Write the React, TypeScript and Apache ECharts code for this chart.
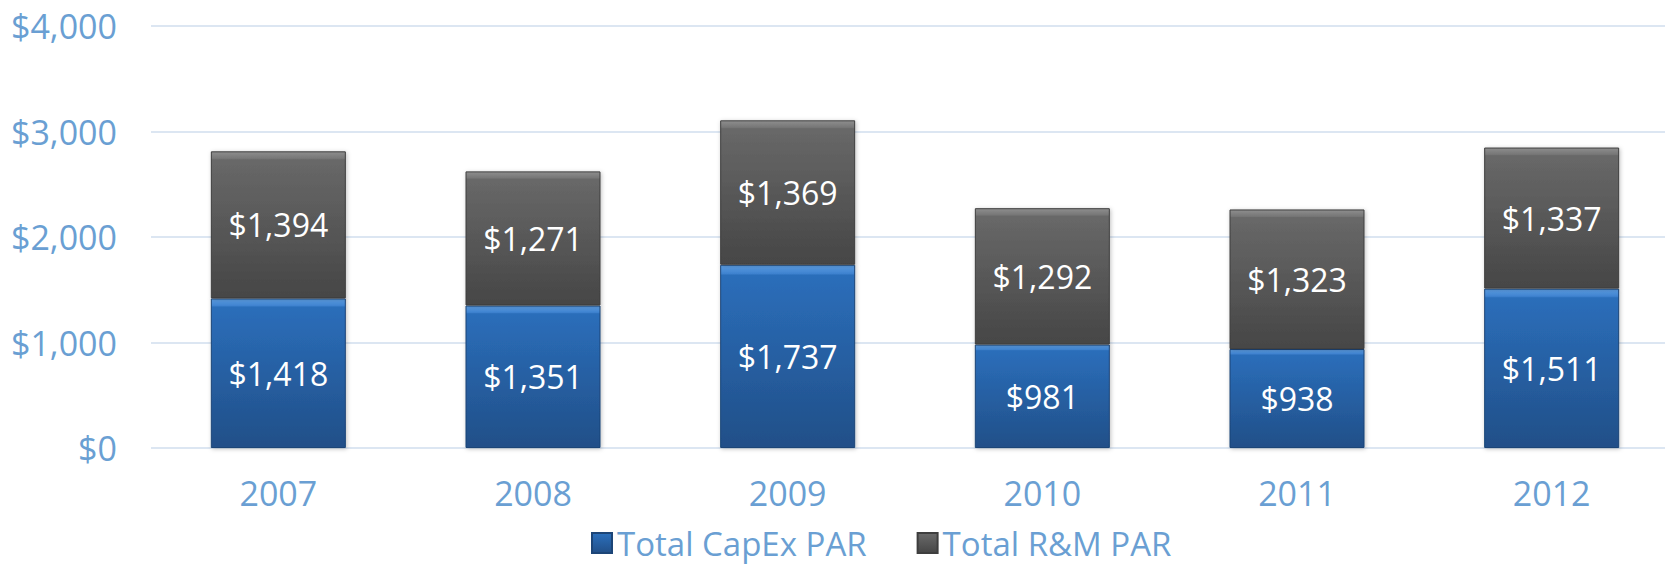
import React, { useEffect, useRef } from "react";
import * as echarts from "echarts";

const categories = ["2007", "2008", "2009", "2010", "2011", "2012"];
const capexValues = [1418, 1351, 1737, 981, 938, 1511];
const rmValues = [1394, 1271, 1369, 1292, 1323, 1337];
const seriesNames = ["Total CapEx PAR", "Total R&M PAR"];
const yTicks = { min: 0, max: 4000, interval: 1000 };

const FONT = "'Open Sans', sans-serif";
const AXIS_BLUE = "#6a9fd3";

const fmt = (v: number) => "$" + v.toLocaleString("en-US");

const blueGrad = new echarts.graphic.LinearGradient(0, 0, 0, 1, [
  { offset: 0, color: "#5e9fe4" },
  { offset: 0.045, color: "#3f83d0" },
  { offset: 0.055, color: "#2b6eba" },
  { offset: 1, color: "#214f88" },
]);
const grayGrad = new echarts.graphic.LinearGradient(0, 0, 0, 1, [
  { offset: 0, color: "#8e8e8e" },
  { offset: 0.045, color: "#777777" },
  { offset: 0.055, color: "#686868" },
  { offset: 1, color: "#464646" },
]);

export default function App() {
  const ref = useRef<HTMLDivElement>(null);
  useEffect(() => {
    if (!ref.current) return;
    const chart = echarts.init(ref.current, null, { renderer: "svg" });
    const labelCfg = {
      show: true,
      position: "inside" as const,
      color: "#ffffff",
      fontFamily: FONT,
      fontSize: 32,
      formatter: (p: any) => fmt(p.value),
    };
    chart.setOption({
      animation: false,
      backgroundColor: "#ffffff",
      grid: { left: 151, width: 1528, top: 26, bottom: 116, containLabel: false },
      legend: {
        left: 586,
        top: 521,
        itemWidth: 20,
        itemHeight: 20,
        itemGap: 50,
        icon: "rect",
        textStyle: { color: AXIS_BLUE, fontFamily: FONT, fontSize: 33, lineHeight: 34 },
        data: seriesNames,
      },
      xAxis: {
        type: "category",
        data: categories,
        axisLine: { show: false },
        axisTick: { show: false },
        axisLabel: { color: AXIS_BLUE, fontFamily: FONT, fontSize: 34, margin: 28 },
      },
      yAxis: {
        type: "value",
        min: yTicks.min,
        max: yTicks.max,
        interval: yTicks.interval,
        axisLine: { show: false },
        axisTick: { show: false },
        splitLine: { lineStyle: { color: "#dce6f2", width: 2 } },
        axisLabel: {
          color: AXIS_BLUE,
          fontFamily: FONT,
          fontSize: 34,
          margin: 34,
          formatter: (v: number) => fmt(v),
        },
      },
      series: [
        {
          name: seriesNames[0],
          type: "bar",
          stack: "total",
          barWidth: 135,
          data: capexValues,
          itemStyle: {
            color: blueGrad,
            borderColor: "#1c4577",
            borderWidth: 1,
            shadowBlur: 4,
            shadowColor: "rgba(0,0,0,0.25)",
            shadowOffsetX: 1,
            shadowOffsetY: 1,
          },
          label: labelCfg,
        },
        {
          name: seriesNames[1],
          type: "bar",
          stack: "total",
          barWidth: 135,
          data: rmValues,
          itemStyle: {
            color: grayGrad,
            borderColor: "#3e3e3e",
            borderWidth: 1,
            shadowBlur: 4,
            shadowColor: "rgba(0,0,0,0.25)",
            shadowOffsetX: 1,
            shadowOffsetY: 1,
          },
          label: labelCfg,
        },
      ],
    });
    return () => chart.dispose();
  }, []);
  return (
    <div
      style={{
        position: "absolute",
        left: 0,
        top: 0,
        width: 1665,
        height: 564,
        overflow: "hidden",
      }}
    >
      <div ref={ref} style={{ width: 1700, height: 564 }} />
    </div>
  );
}
